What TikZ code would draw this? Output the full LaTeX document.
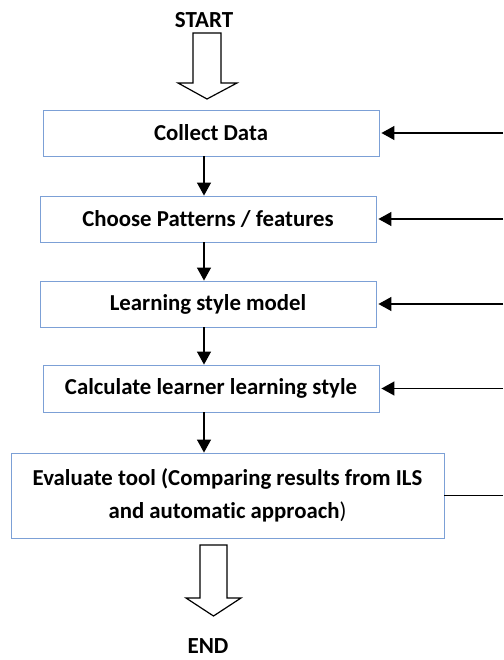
\documentclass[tikz,border=0pt]{standalone}
\usepackage{fontspec}
\setmainfont{Carlito}[Ligatures=CommonOff]
\usetikzlibrary{arrows.meta}
\definecolor{boxblue}{RGB}{124,160,214}

\tikzset{
  stagebox/.style={draw=boxblue, line width=0.9pt, fill=white, inner sep=0pt,
    minimum width=336pt, minimum height=46pt, align=center,
    font=\fontsize{22.8}{33}\selectfont\bfseries},
  flow/.style={-{Triangle[length=13pt,width=14pt]}, line width=1.4pt},
  blockarrow/.style={draw=black, line width=1.2pt, fill=white, line join=miter},
  endlabel/.style={font=\fontsize{23}{26}\selectfont\bfseries},
}

\begin{document}
\begin{tikzpicture}[x=1pt,y=-1pt]
\useasboundingbox (0,0) rectangle (503,660);

\coordinate (spine) at (204,0);
\coordinate (rim) at (503,0);

\node[endlabel] (start) at (204,20) {START};
\node[stagebox] (collect) at (211,133) {Collect Data};
\node[stagebox] (choose) at (208,219) {Choose Patterns / features};
\node[stagebox] (model) at (208,304) {Learning style model};
\node[stagebox, minimum height=47pt] (calc) at (211,388.5) {Calculate learner learning style};
\node[stagebox, minimum width=433pt, minimum height=85pt] (evaluate) at (227.5,495.5)
  {Evaluate tool (Comparing results from ILS\\and automatic approach{\mdseries)}};
\node[endlabel] (end) at (208,646) {END};

% block arrows
\draw[blockarrow] (193,33) -- ++(28,0) -- ++(0,50) -- ++(16,0) -- ++(-30,16)
  -- ++(-29,-16) -- ++(15,0) -- cycle;
\draw[blockarrow] (200,545) -- ++(27,0) -- ++(0,53) -- ++(14,0) -- ++(-27.5,18)
  -- ++(-27.5,-18) -- ++(14,0) -- cycle;

% main flow
\draw[flow] (collect.south -| spine) -- (choose.north -| spine);
\draw[flow] (choose.south -| spine) -- (model.north -| spine);
\draw[flow] (model.south -| spine) -- (calc.north -| spine);
\draw[flow] (calc.south -| spine) -- (evaluate.north -| spine);

% feedback from the right
\foreach \b in {collect,choose,model,calc}
  \draw[flow] (rim |- \b.east) -- ([xshift=2pt]\b.east);
\draw[line width=1.4pt] (rim |- evaluate.east) -- (evaluate.east);
\end{tikzpicture}
\end{document}
